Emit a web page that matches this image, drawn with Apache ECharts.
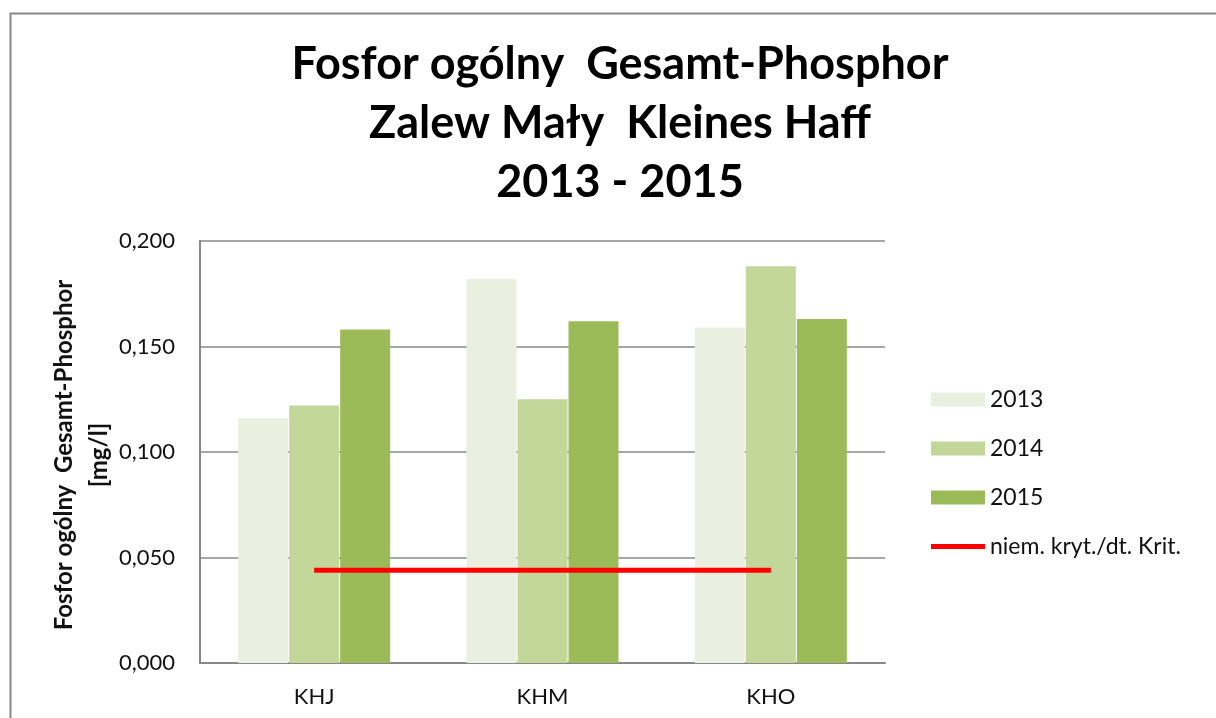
<!DOCTYPE html>
<html>
<head>
<meta charset="utf-8">
<script src="https://cdn.jsdelivr.net/npm/echarts@6/dist/echarts.min.js"></script>
<style>
  html, body { margin: 0; padding: 0; background: #fff; }
  #chart { width: 1216px; height: 718px; }
</style>
</head>
<body>
<div id="chart"></div>
<script>
var stations = ['KHJ', 'KHM', 'KHO'];
var years = ['2013', '2014', '2015'];
var values2013 = [0.116, 0.182, 0.159];
var values2014 = [0.122, 0.125, 0.188];
var values2015 = [0.158, 0.162, 0.163];
var critName = 'niem. kryt./dt. Krit.';
var critValues = [0.044, 0.044, 0.044];
var colors = ['#EBEFDF', '#C4D79B', '#9BBB59'];
var yTitle = 'Fosfor ogólny  Gesamt-Phosphor\n[mg/l]';

var font = 'Lato, "Liberation Sans", sans-serif';
var chart = echarts.init(document.getElementById('chart'));

var barData = [values2013, values2014, values2015];
var series = years.map(function (y, i) {
    return {
        name: y,
        type: 'bar',
        data: barData[i],
        barWidth: 50,
        barGap: '2%',
        itemStyle: { color: colors[i] }
    };
});
series.push({
    name: critName,
    type: 'line',
    data: critValues,
    symbol: 'none',
    lineStyle: { color: '#FF0000', width: 5 },
    itemStyle: { color: '#FF0000' },
    z: 5
});

chart.setOption({
    animation: false,
    textStyle: { fontFamily: font },
    graphic: [{
        type: 'rect',
        left: 8, top: 11,
        shape: { width: 1400, height: 900 },
        style: { fill: 'none', stroke: '#888', lineWidth: 2 },
        silent: true
    }, {
        // y axis title, rotated
        type: 'text',
        x: 82, y: 455,
        rotation: Math.PI / 2,
        silent: true,
        style: {
            text: yTitle,
            font: 'bold 24px ' + font,
            lineHeight: 35,
            fill: '#111',
            align: 'center',
            verticalAlign: 'middle'
        }
    }],
    title: {
        text: 'Fosfor ogólny  Gesamt-Phosphor\nZalew Mały  Kleines Haff\n2013 - 2015',
        left: 615,
        textAlign: 'center',
        top: 30,
        textStyle: {
            fontFamily: font,
            fontSize: 45,
            fontWeight: 'bold',
            lineHeight: 59,
            color: '#000'
        }
    },
    legend: {
        orient: 'vertical',
        left: 926,
        top: 383,
        itemWidth: 54,
        itemHeight: 14,
        itemGap: 26,
        textStyle: { fontFamily: font, fontSize: 23, lineHeight: 20, color: '#111' },
        data: [
            { name: '2013', icon: 'rect' },
            { name: '2014', icon: 'rect' },
            { name: '2015', icon: 'rect' },
            { name: critName, icon: 'path://M0,0H54V5H0Z', itemStyle: { color: '#FF0000' } }
        ]
    },
    grid: { left: 200, top: 241, right: 331, bottom: 55 },
    xAxis: {
        type: 'category',
        data: stations,
        axisLine: { lineStyle: { color: '#888', width: 2 } },
        axisTick: { show: false },
        axisLabel: { fontSize: 22, color: '#111', margin: 23 }
    },
    yAxis: {
        type: 'value',
        min: 0,
        max: 0.2,
        interval: 0.05,
        axisLine: { show: true, lineStyle: { color: '#888', width: 2 } },
        axisTick: { show: false },
        splitLine: { lineStyle: { color: '#888', width: 1.5 } },
        axisLabel: {
            fontSize: 22,
            color: '#111',
            margin: 25,
            formatter: function (v) { return v.toFixed(3).replace('.', ','); }
        }
    },
    series: series
});
</script>
</body>
</html>
